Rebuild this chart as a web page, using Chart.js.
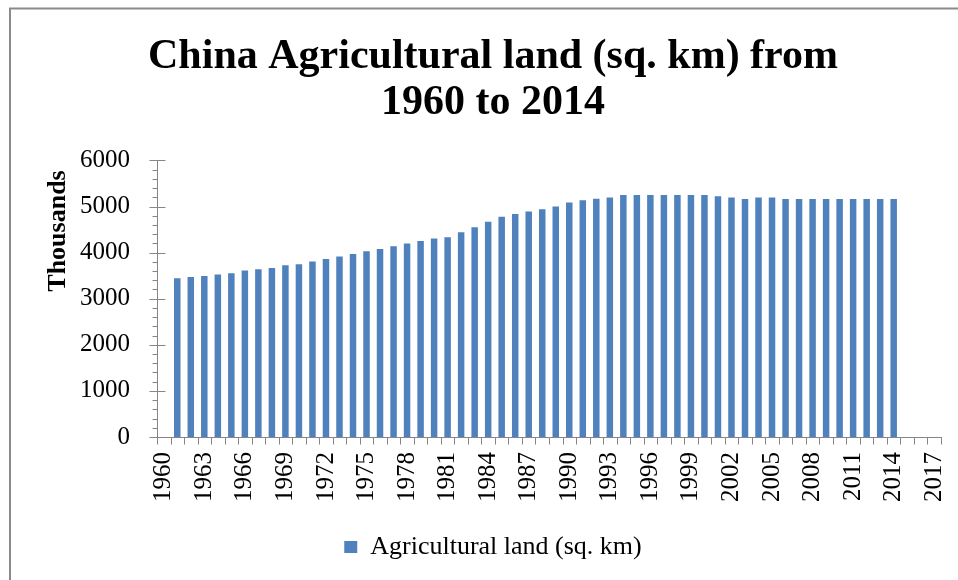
<!DOCTYPE html>
<html>
<head>
<meta charset="utf-8">
<title>China Agricultural land</title>
<script src="https://cdn.jsdelivr.net/npm/chart.js@4.4.1/dist/chart.umd.min.js"></script>
<style>
  html, body { margin: 0; padding: 0; background: #fff; }
  #caja { position: relative; width: 958px; height: 580px; }
</style>
</head>
<body>
<div id="caja"><canvas id="grafica"></canvas></div>
<script>
// años del eje (1960 a 2017), datos de 1961 a 2014
const anios = [];
for (let a = 1960; a <= 2017; a++) anios.push(String(a));

// tierra agrícola en miles de km²
const tierra = [
  null,
  3443, 3470, 3493, 3527, 3550, 3610, 3637, 3665, 3725, 3747,
  3805, 3863, 3915, 3972, 4030, 4080, 4138, 4195, 4253, 4305,
  4335, 4443, 4552, 4667, 4775, 4835, 4892, 4943, 5001, 5087,
  5138, 5167, 5196, 5247, 5247, 5247, 5247, 5247, 5247, 5247,
  5225, 5196, 5163, 5196, 5196, 5160, 5160, 5160, 5160, 5160,
  5160, 5160, 5160, 5160,
  null, null, null
];

const ticksY = [0, 1000, 2000, 3000, 4000, 5000, 6000];
const tituloY = 'Thousands';

const GRIS = '#868686';
const AZUL = '#4F81BD';
const FUENTE = "'Liberation Serif', 'Times New Roman', serif";

Chart.defaults.font.family = FUENTE;
Chart.defaults.color = '#000';

// marco gris, título del eje Y y marcas de los ejes
const marcas = {
  id: 'marcas',
  beforeDraw(chart) {
    const ctx = chart.ctx;
    ctx.save();
    ctx.strokeStyle = '#8a8a8a';
    ctx.lineWidth = 2;
    ctx.beginPath();
    ctx.moveTo(10, 580);
    ctx.lineTo(10, 8.5);
    ctx.lineTo(958, 8.5);
    ctx.stroke();
    ctx.restore();
  },
  afterDraw(chart) {
    const ctx = chart.ctx;
    const x = chart.scales.x;
    const y = chart.scales.y;
    const ejeX = Math.round(chart.chartArea.left) + 0.5;
    const ejeY = Math.round(chart.chartArea.bottom) + 0.5;
    ctx.save();
    ctx.strokeStyle = GRIS;
    ctx.lineWidth = 1;
    ctx.beginPath();
    // marcas del eje Y: principales cruzadas, menores cada 200
    for (let v = 0; v <= 6000; v += 200) {
      const py = Math.round(y.getPixelForValue(v)) + 0.5;
      if (v % 1000 === 0) {
        ctx.moveTo(ejeX - 8, py);
        ctx.lineTo(ejeX + 8, py);
      } else {
        ctx.moveTo(ejeX - 5, py);
        ctx.lineTo(ejeX, py);
      }
    }
    // marcas del eje X entre categorías
    const mitad = (x.getPixelForValue(1) - x.getPixelForValue(0)) / 2;
    for (let i = 0; i <= anios.length; i++) {
      const px = Math.round(i < anios.length ? x.getPixelForValue(i) - mitad
                                             : x.getPixelForValue(i - 1) + mitad) + 0.5;
      ctx.moveTo(px, ejeY);
      ctx.lineTo(px, ejeY + 7);
    }
    ctx.stroke();

    // título vertical del eje Y, en la parte alta del eje
    ctx.translate(65, 231);
    ctx.rotate(-Math.PI / 2);
    ctx.fillStyle = '#000';
    ctx.font = 'bold 26px ' + FUENTE;
    ctx.textAlign = 'center';
    ctx.textBaseline = 'alphabetic';
    ctx.fillText(tituloY, 0, 0);
    ctx.restore();
  }
};

new Chart(document.getElementById('grafica'), {
  type: 'bar',
  data: {
    labels: anios,
    datasets: [{
      label: 'Agricultural land (sq. km)',
      data: tierra,
      backgroundColor: AZUL,
      borderWidth: 0,
      barPercentage: 0.48,
      categoryPercentage: 1
    }]
  },
  options: {
    responsive: true,
    maintainAspectRatio: false,
    animation: false,
    layout: { padding: { left: 45, right: 17, top: 0, bottom: 10 } },
    plugins: {
      title: {
        display: true,
        text: ['China Agricultural land (sq. km) from', '1960 to 2014'],
        color: '#000',
        font: { size: 42, weight: 'bold', lineHeight: 1.1 },
        padding: { top: 34, bottom: 34 }
      },
      legend: {
        position: 'bottom',
        labels: {
          boxWidth: 13,
          boxHeight: 12,
          padding: 10,
          color: '#000',
          font: { size: 26 }
        }
      },
      tooltip: { enabled: false }
    },
    scales: {
      x: {
        grid: { display: false, drawTicks: false },
        border: { display: true, color: GRIS },
        ticks: {
          autoSkip: false,
          minRotation: 90,
          maxRotation: 90,
          padding: 15,
          font: { size: 25 },
          color: '#000',
          callback: (val, i) => (i % 3 === 0 ? anios[i] : '')
        },
        afterFit: (scale) => {
          scale.height = 87;
          scale.paddingLeft = 0;
          scale.paddingRight = 0;
        }
      },
      y: {
        min: 0,
        max: 6000,
        grid: { display: false, drawTicks: false },
        border: { display: true, color: GRIS },
        afterBuildTicks: (scale) => { scale.ticks = ticksY.map(v => ({ value: v })); },
        ticks: {
          padding: 27,
          font: { size: 25 },
          color: '#000',
          callback: (v) => String(v)
        },
        afterFit: (scale) => { scale.width = 112; }
      }
    }
  },
  plugins: [marcas]
});
</script>
</body>
</html>
